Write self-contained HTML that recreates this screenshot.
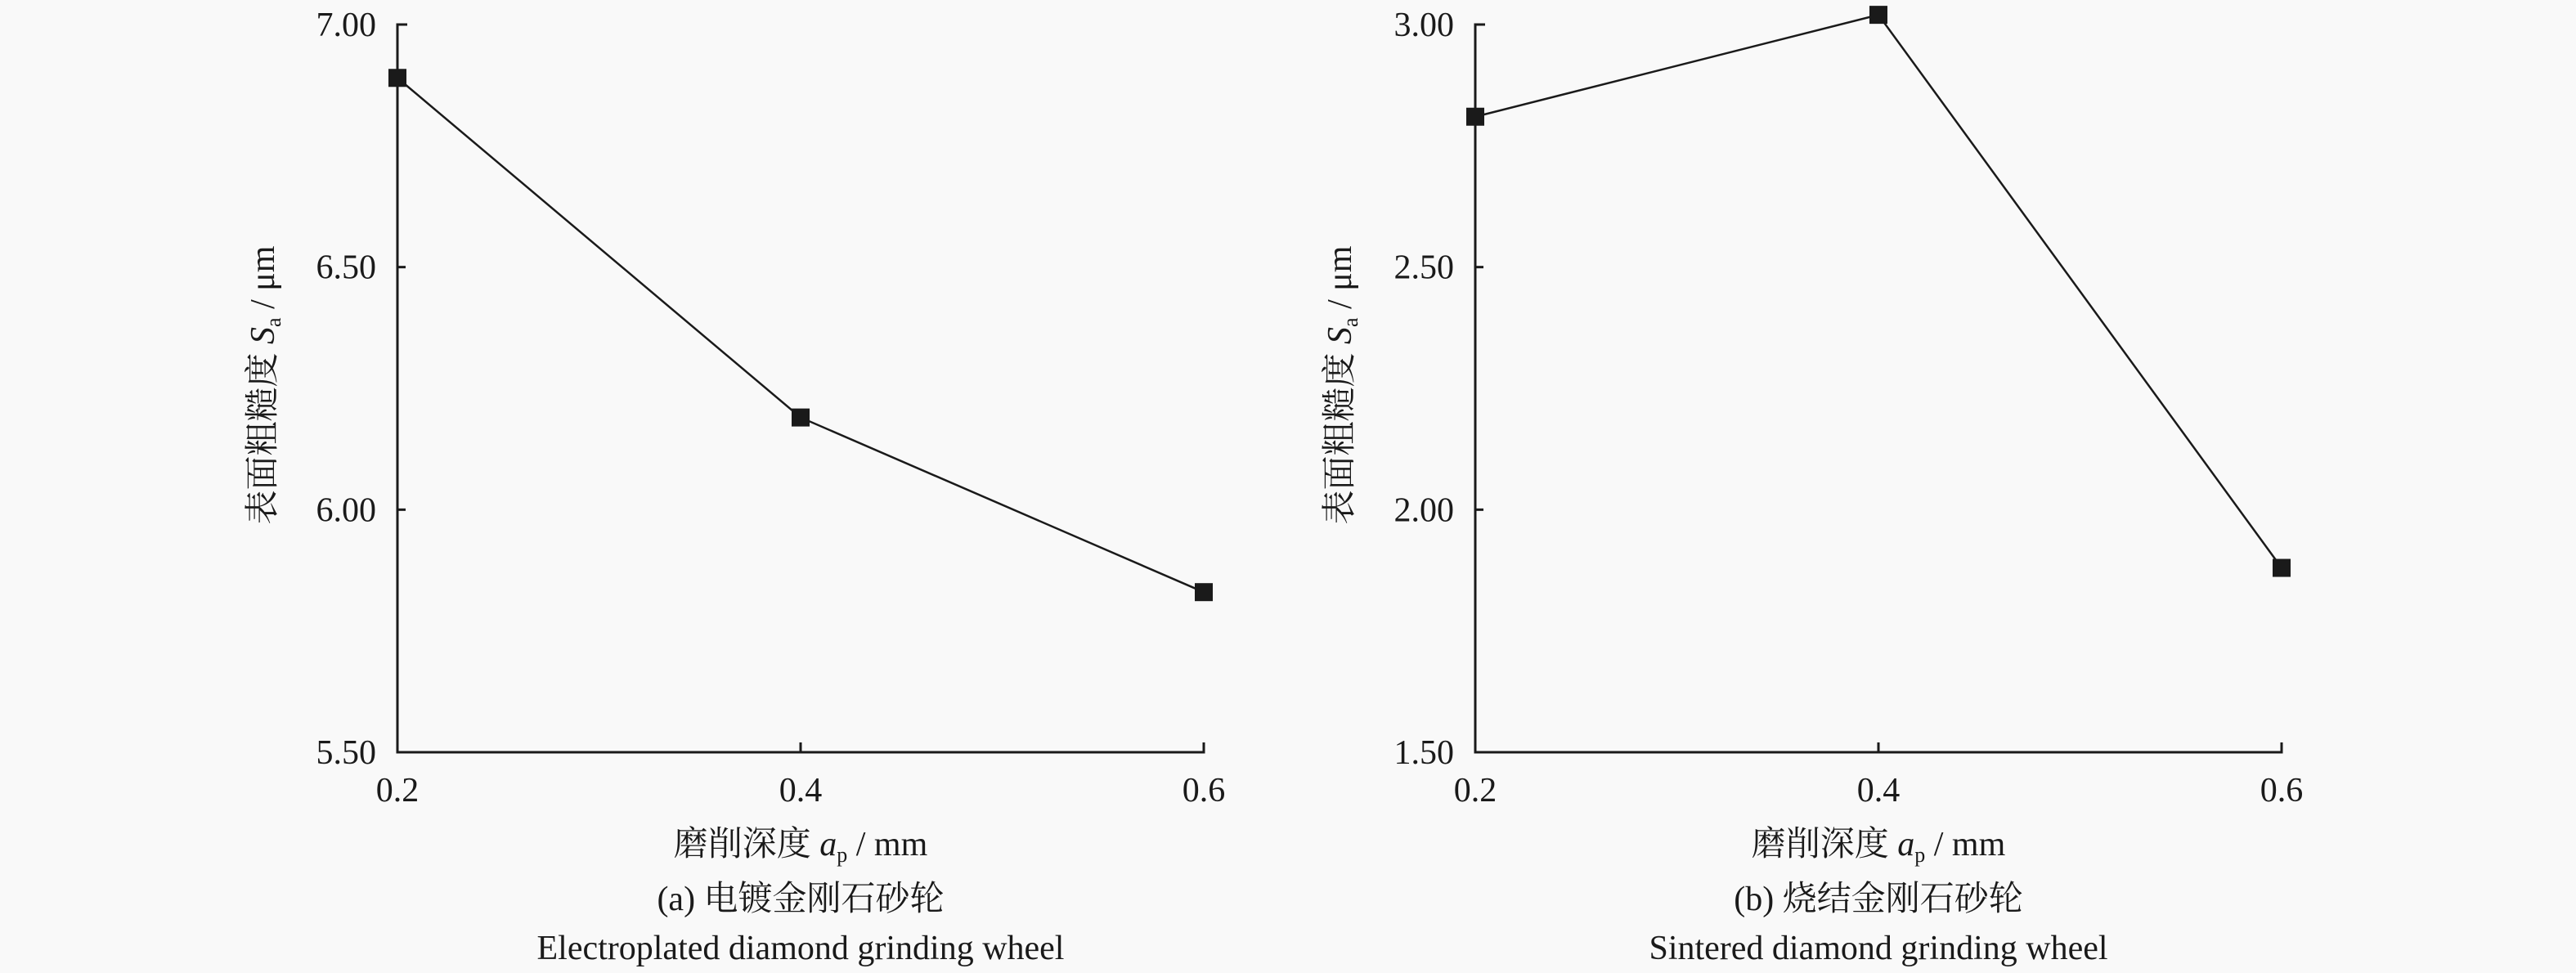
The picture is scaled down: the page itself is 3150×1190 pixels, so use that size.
<!DOCTYPE html>
<html><head><meta charset="utf-8"><style>
html,body{margin:0;padding:0;background:#f9f9f9;}
svg{display:block;}
text{font-family:"Liberation Serif","Noto Serif CJK SC",serif;fill:#1a1a1a;}
</style></head><body>
<svg id="chart" width="3150" height="1190" viewBox="0 0 3150 1190"></svg>
<script>
const categories = [0.2, 0.4, 0.6];
const xTickLabels = ["0.2", "0.4", "0.6"];
const seriesA = [6.89, 6.19, 5.83];
const seriesB = [2.81, 3.02, 1.88];
const yTicksA = [5.5, 6.0, 6.5, 7.0];
const yTickLabelsA = ["5.50", "6.00", "6.50", "7.00"];
const yTicksB = [1.5, 2.0, 2.5, 3.0];
const yTickLabelsB = ["1.50", "2.00", "2.50", "3.00"];

const svg = document.getElementById('chart');
const NS = 'http://www.w3.org/2000/svg';
function mk(tag, attrs, parent){const e=document.createElementNS(NS,tag);for(const k in attrs)e.setAttribute(k,attrs[k]);(parent||svg).appendChild(e);return e;}

function panel(opt){
  const g = mk('g',{});
  
  
  const x0=opt.x0, x1=opt.x1, yTop=30, yBot=920;
  const xs = v => x0 + (v - categories[0])/(categories[categories.length-1]-categories[0])*(x1-x0);
  const ys = v => yBot - (v - opt.ymin)/(opt.ymax-opt.ymin)*(yBot-yTop);
  const ax = mk('path',{d:`M${x0+12},${yTop} H${x0} V${yBot} H${x1} V${yBot-12}`,fill:'none',stroke:'#1a1a1a','stroke-width':3},g);
  
  
  opt.yTicks.forEach((t,i)=>{
    const y=ys(t);
    const tk=mk('line',{x1:x0,x2:x0+10,y1:y,y2:y,stroke:'#1a1a1a','stroke-width':3},g);
    
    
    const tl=mk('text',{x:x0-26,y:y+14,'text-anchor':'end','font-size':42},g);
    tl.textContent=opt.yLabels[i];
    
    
  });
  categories.forEach((c,i)=>{
    const x=xs(c);
    const tk=mk('line',{x1:x,x2:x,y1:yBot,y2:yBot-12,stroke:'#1a1a1a','stroke-width':3},g);
    
    
    const tl=mk('text',{x:x,y:980,'text-anchor':'middle','font-size':42},g);
    tl.textContent=xTickLabels[i];
    
    
  });
  const pts=categories.map((c,i)=>xs(c)+','+ys(opt.data[i])).join(' ');
  const ln=mk('polyline',{points:pts,fill:'none',stroke:'#1a1a1a','stroke-width':2.5},g);
  
  
  categories.forEach((c,i)=>{
    const m=mk('rect',{x:xs(c)-11,y:ys(opt.data[i])-11,width:22,height:22,fill:'#1a1a1a'},g);
    
    
  });
  const cx=(x0+x1)/2;
  const xt=mk('text',{x:cx,y:1046,'text-anchor':'middle','font-size':42},g);
  xt.innerHTML='磨削深度 <tspan font-style="italic">a</tspan><tspan font-size="26" dy="8">p</tspan><tspan dy="-8"> / mm</tspan>';
  
  
  const c1=mk('text',{x:cx,y:1113,'text-anchor':'middle','font-size':42},g);
  c1.textContent=opt.cap1;
  
  
  const c2=mk('text',{x:cx,y:1173,'text-anchor':'middle','font-size':42},g);
  c2.textContent=opt.cap2;
  
  
  const yt=mk('text',{x:0,y:0,'text-anchor':'middle','font-size':42,transform:`translate(${opt.titleX},${(yTop+yBot)/2-4}) rotate(-90)`},g);
  yt.innerHTML='表面粗糙度 <tspan font-style="italic">S</tspan><tspan font-size="26" dy="8">a</tspan><tspan dy="-8"> / μm</tspan>';
  
  
}
panel({name:'panel-a-electroplated',x0:486,x1:1472,ymin:5.5,ymax:7.0,yTicks:yTicksA,yLabels:yTickLabelsA,data:seriesA,titleX:335,cap1:'(a) 电镀金刚石砂轮',cap2:'Electroplated diamond grinding wheel'});
panel({name:'panel-b-sintered',x0:1804,x1:2790,ymin:1.5,ymax:3.0,yTicks:yTicksB,yLabels:yTickLabelsB,data:seriesB,titleX:1652,cap1:'(b) 烧结金刚石砂轮',cap2:'Sintered diamond grinding wheel'});
</script>
</body></html>
